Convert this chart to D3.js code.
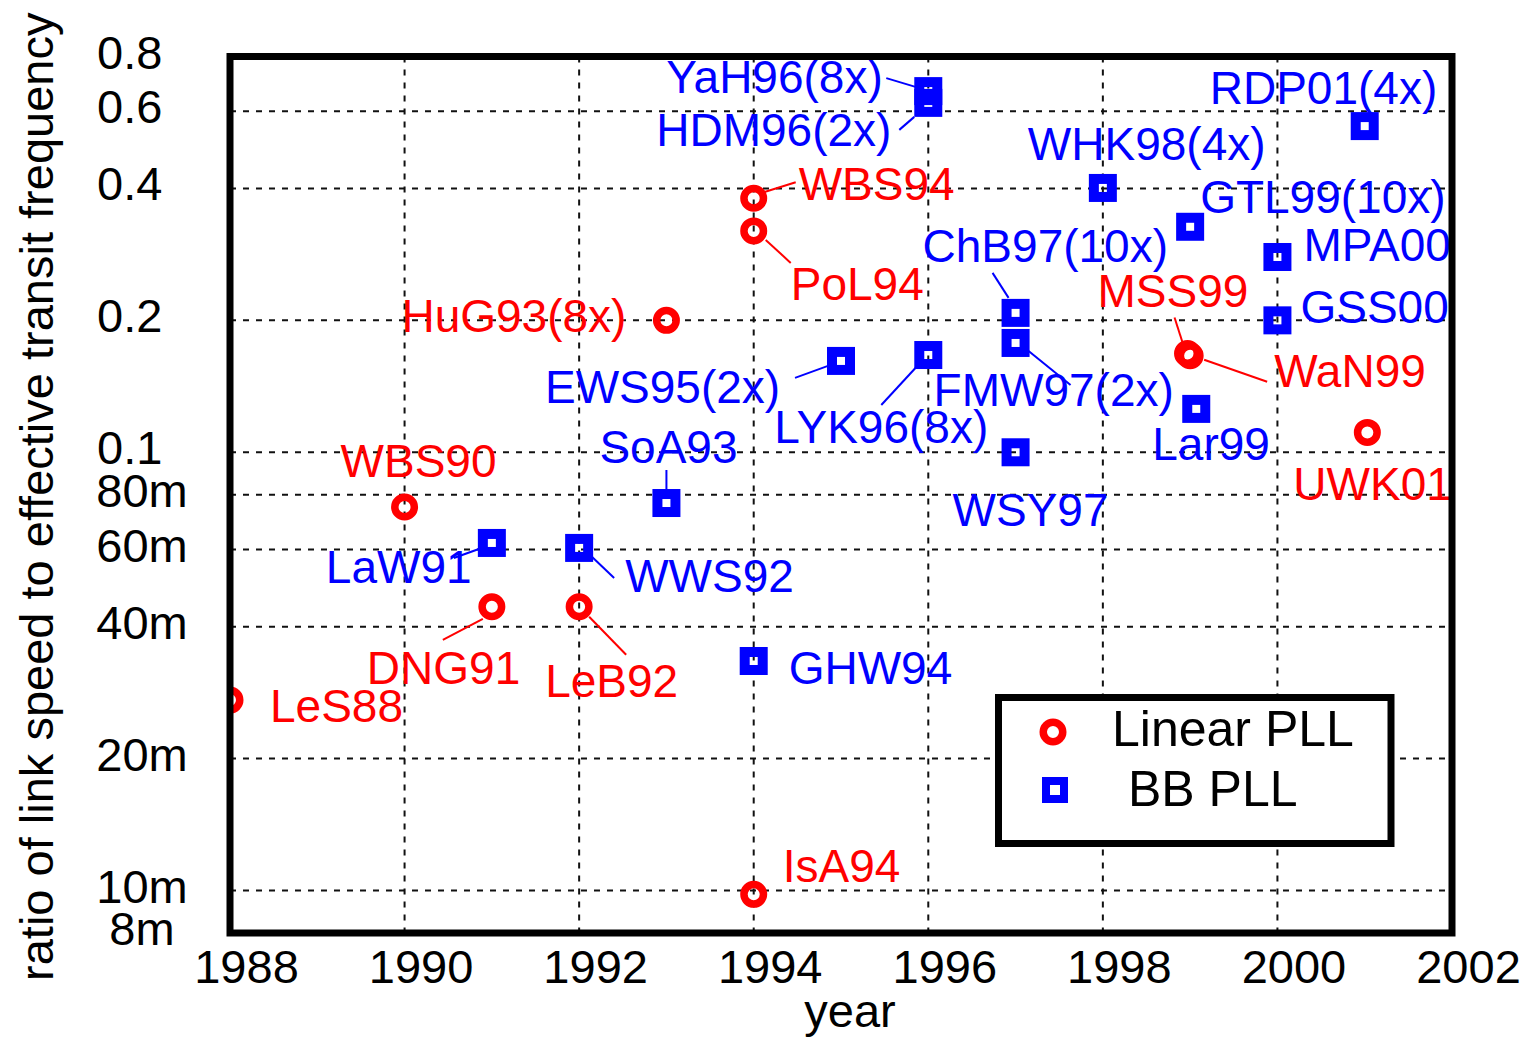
<!DOCTYPE html>
<html>
<head>
<meta charset="utf-8">
<script src="https://cdn.jsdelivr.net/npm/d3@7"></script>
<style>
  html, body { margin: 0; padding: 0; background: #fff; }
  svg { display: block; }
  text { font-family: "Liberation Sans", Arial, Helvetica, sans-serif; }
</style>
</head>
<body>
<svg id="chart" width="1532" height="1037"></svg>
<script>
// Linear PLL designs: publication tag, year, ratio of link speed to transit frequency
const linearNames  = ["LeS88", "WBS90", "DNG91", "LeB92", "HuG93(8x)", "WBS94", "PoL94", "IsA94", "MSS99", "WaN99", "UWK01"];
const linearYears  = [1988, 1990, 1991, 1992, 1993, 1994, 1994, 1994, 1998.97, 1999.0, 2001.03];
const linearRatios = [0.0272, 0.075, 0.0444, 0.0444, 0.2, 0.38, 0.32, 0.0098, 0.168, 0.166, 0.111];

// Bang-bang PLL designs
const bbNames  = ["LaW91", "WWS92", "SoA93", "GHW94", "EWS95(2x)", "YaH96(8x)", "HDM96(2x)", "LYK96(8x)",
                  "ChB97(10x)", "FMW97(2x)", "WSY97", "WHK98(4x)", "GTL99(10x)", "Lar99", "MPA00", "GSS00", "RDP01(4x)"];
const bbYears  = [1991, 1992, 1993, 1994, 1995, 1996, 1996, 1996,
                  1997, 1997, 1997, 1998, 1999, 1999.07, 2000, 2000, 2001];
const bbRatios = [0.0621, 0.0605, 0.0766, 0.0334, 0.1616, 0.667, 0.627, 0.1667,
                  0.208, 0.1776, 0.1, 0.401, 0.327, 0.1256, 0.279, 0.2, 0.555];

// Axis ticks
const xTickValues = [1988, 1990, 1992, 1994, 1996, 1998, 2000, 2002];
const yTickValues = [0.8, 0.6, 0.4, 0.2, 0.1, 0.08, 0.06, 0.04, 0.02, 0.01, 0.008];
const yTickLabels = ["0.8", "0.6", "0.4", "0.2", "0.1", "80m", "60m", "40m", "20m", "10m", "8m"];

// Series legend
const seriesNames = ["Linear PLL", "BB PLL"];

// Annotation layout: text offset from the marker and optional leader segment (pixels)
const labelLayout = {
  "LeS88":      { dx: 40,   dy: 22 },
  "WBS90":      { dx: -64,  dy: -30 },
  "DNG91":      { dx: -125, dy: 77, leader: [-49, 33, -9, 12] },
  "LeB92":      { dx: -34,  dy: 90, leader: [10, 10, 47, 48] },
  "HuG93(8x)":  { dx: -265, dy: 12 },
  "WBS94":      { dx: 45,   dy: 2,  leader: [10, -6, 42, -16] },
  "PoL94":      { dx: 37,   dy: 69, leader: [12, 9, 37, 32] },
  "IsA94":      { dx: 29,   dy: -12 },
  "MSS99":      { dx: -90,  dy: -47, leader: [-13, -36, -5, -11] },
  "WaN99":      { dx: 84,   dy: 31, leader: [14, 4, 77, 26] },
  "UWK01":      { dx: -74,  dy: 68 },
  "LaW91":      { dx: -166, dy: 40, leader: [-38, 15, -13, 6] },
  "WWS92":      { dx: 46,   dy: 44, leader: [13, 9, 35, 30] },
  "SoA93":      { dx: -67,  dy: -40, leader: [0, -33, 0, -13] },
  "GHW94":      { dx: 35,   dy: 23 },
  "EWS95(2x)":  { dx: -296, dy: 42, leader: [-46, 17, -13, 5] },
  "YaH96(8x)":  { dx: -262, dy: 2,  leader: [-42, -13, -12, -4] },
  "HDM96(2x)":  { dx: -272, dy: 43, leader: [-29, 27, -14, 14] },
  "LYK96(8x)":  { dx: -154, dy: 88, leader: [-47, 50, -11, 11] },
  "ChB97(10x)": { dx: -93,  dy: -51, leader: [-23, -40, -7, -15] },
  "FMW97(2x)":  { dx: -82,  dy: 63, leader: [13, 8, 55, 42] },
  "WSY97":      { dx: -63,  dy: 74 },
  "WHK98(4x)":  { dx: -75,  dy: -28 },
  "GTL99(10x)": { dx: 10,   dy: -14 },
  "Lar99":      { dx: -44,  dy: 51 },
  "MPA00":      { dx: 26,   dy: 4 },
  "GSS00":      { dx: 23,   dy: 3 },
  "RDP01(4x)":  { dx: -155, dy: -22 }
};

const RED = "#ff0000", BLUE = "#0000ff";
const FONT = 47;        // axis text
const LABEL_FONT = 46;  // point annotations

const svg = d3.select("#chart");
const plot = { left: 230, right: 1452, top: 56.5, bottom: 933 };

const x = d3.scaleLinear().domain([1988, 2002]).range([plot.left, plot.right]);
const y = d3.scaleLog().domain([0.008, 0.8]).range([plot.bottom, plot.top]);

const linear = linearNames.map((n, i) => ({ name: n, year: linearYears[i], ratio: linearRatios[i] }));
const bb = bbNames.map((n, i) => ({ name: n, year: bbYears[i], ratio: bbRatios[i] }));

// Dotted grid
const grid = svg.append("g")
  .attr("stroke", "#111").attr("stroke-width", 2).attr("stroke-dasharray", "6,7");
grid.selectAll("line.h")
  .data(yTickValues.filter(v => v < 0.8 && v > 0.008))
  .join("line")
  .attr("x1", plot.left).attr("x2", plot.right)
  .attr("y1", d => y(d)).attr("y2", d => y(d));
grid.selectAll("line.v")
  .data(xTickValues.filter(v => v > 1988 && v < 2002))
  .join("line")
  .attr("x1", d => x(d)).attr("x2", d => x(d))
  .attr("y1", plot.top).attr("y2", plot.bottom);

// Axes
const xAxis = svg.append("g")
  .attr("transform", `translate(0,${plot.bottom})`)
  .call(d3.axisBottom(x).tickValues(xTickValues).tickFormat(d3.format("d")).tickSize(0));
xAxis.select(".domain").remove();
xAxis.selectAll("text")
  .attr("font-size", FONT).attr("fill", "#000")
  .attr("font-family", "Liberation Sans, Arial, sans-serif")
  .attr("y", 50).attr("dy", null).attr("dx", 16);

const yAxis = svg.append("g")
  .attr("transform", `translate(${plot.left},0)`)
  .call(d3.axisLeft(y).tickValues(yTickValues).tickFormat((d, i) => yTickLabels[i]).tickSize(0));
yAxis.select(".domain").remove();
yAxis.selectAll("text")
  .attr("font-size", FONT).attr("fill", "#000")
  .attr("font-family", "Liberation Sans, Arial, sans-serif")
  .attr("dy", null).attr("y", 11.5)
  .attr("text-anchor", (d, i) => yTickLabels[i].endsWith("m") ? "middle" : "start")
  .attr("x", (d, i) => (yTickLabels[i].endsWith("m") ? 142 : 97) - plot.left);

// Axis titles
svg.append("text")
  .attr("x", (plot.left + plot.right) / 2 + 9).attr("y", 1027)
  .attr("text-anchor", "middle").attr("font-size", FONT).text("year");
svg.append("text")
  .attr("transform", `translate(53,${(plot.top + plot.bottom) / 2 + 2}) rotate(-90)`)
  .attr("text-anchor", "middle").attr("font-size", FONT)
  .text("ratio of link speed to effective transit frequency");

// Markers clipped to the plotting area
svg.append("clipPath").attr("id", "plot-clip")
  .append("rect")
  .attr("x", plot.left).attr("y", plot.top)
  .attr("width", plot.right - plot.left).attr("height", plot.bottom - plot.top);
const marks = svg.append("g").attr("clip-path", "url(#plot-clip)");

const SQ = 18;
marks.selectAll("rect.bb")
  .data(bb).join("rect")
  .attr("class", "bb")
  .attr("x", d => x(d.year) - SQ / 2).attr("y", d => y(d.ratio) - SQ / 2)
  .attr("width", SQ).attr("height", SQ)
  .attr("fill", "none").attr("stroke", BLUE).attr("stroke-width", 10);

marks.selectAll("circle.lin")
  .data(linear).join("circle")
  .attr("class", "lin")
  .attr("cx", d => x(d.year)).attr("cy", d => y(d.ratio)).attr("r", 9.75)
  .attr("fill", "none").attr("stroke", RED).attr("stroke-width", 7.5);

// Annotations with leader lines
function annotate(data, color) {
  const g = svg.append("g").attr("fill", color);
  data.forEach(d => {
    const L = labelLayout[d.name];
    const px = x(d.year), py = y(d.ratio);
    if (L.leader) {
      g.append("line")
        .attr("x1", px + L.leader[0]).attr("y1", py + L.leader[1])
        .attr("x2", px + L.leader[2]).attr("y2", py + L.leader[3])
        .attr("stroke", color).attr("stroke-width", 2);
    }
    g.append("text")
      .attr("x", px + L.dx).attr("y", py + L.dy)
      .attr("font-size", LABEL_FONT)
      .text(d.name);
  });
}
annotate(linear, RED);
annotate(bb, BLUE);

// Plot frame
svg.append("rect")
  .attr("x", plot.left).attr("y", plot.top)
  .attr("width", plot.right - plot.left).attr("height", plot.bottom - plot.top)
  .attr("fill", "none").attr("stroke", "#000").attr("stroke-width", 7);

// Legend
const legend = svg.append("g");
legend.append("rect")
  .attr("x", 998.5).attr("y", 697.5).attr("width", 392.5).attr("height", 146)
  .attr("fill", "#fff").attr("stroke", "#000").attr("stroke-width", 7);
legend.append("circle")
  .attr("cx", 1053).attr("cy", 732).attr("r", 9.75)
  .attr("fill", "none").attr("stroke", RED).attr("stroke-width", 7.5);
legend.append("rect")
  .attr("x", 1055 - 9).attr("y", 790 - 9).attr("width", 18).attr("height", 18)
  .attr("fill", "none").attr("stroke", BLUE).attr("stroke-width", 8);
legend.selectAll("text.series")
  .data(seriesNames).join("text")
  .attr("class", "series")
  .attr("x", (d, i) => i === 0 ? 1112 : 1128)
  .attr("y", (d, i) => i === 0 ? 746 : 806)
  .attr("font-size", 50)
  .text(d => d);
</script>
</body>
</html>
